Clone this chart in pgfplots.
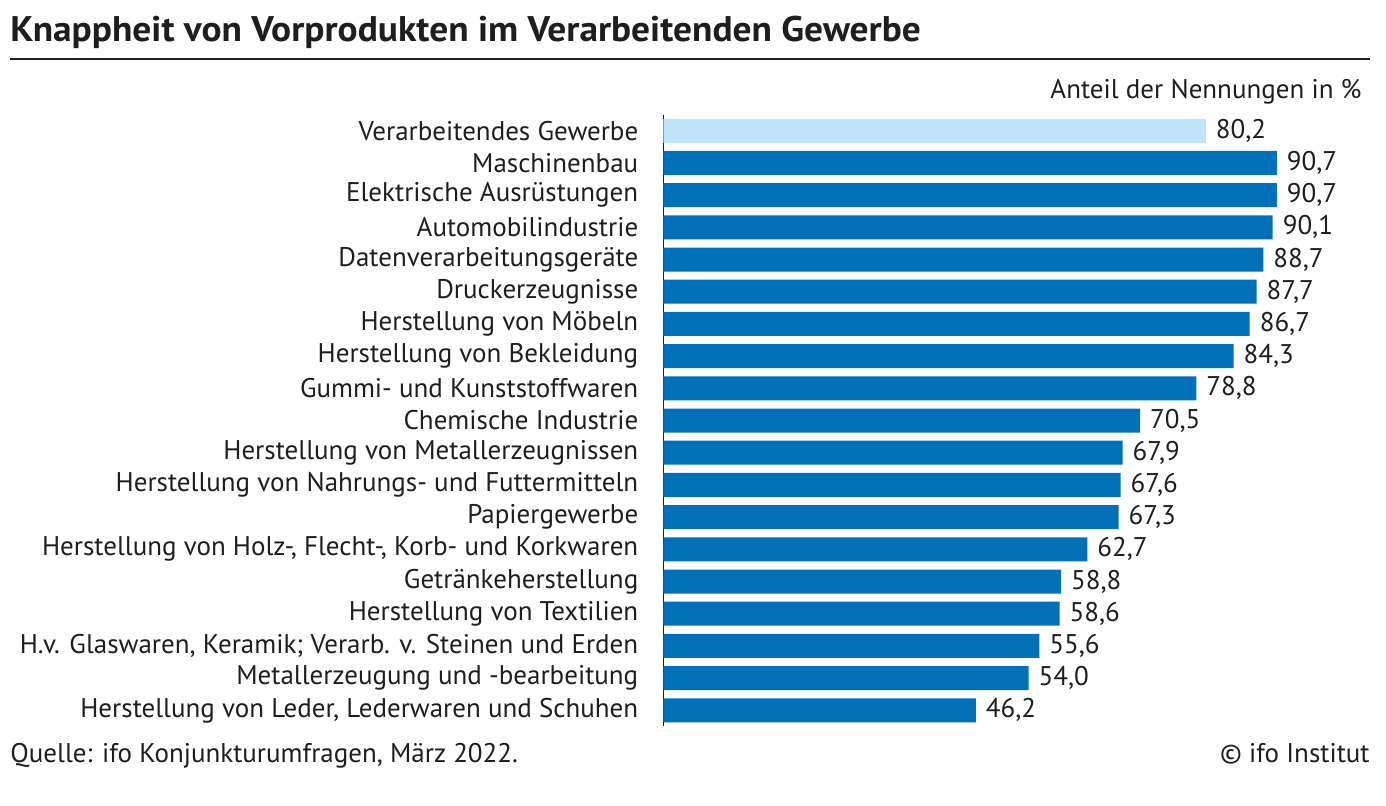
\documentclass[border=0pt]{standalone}
\usepackage{fontspec}
\setmainfont{PT Sans}
\newfontfamily\titlefont[FakeStretch=1.05]{PT Sans}
\usepackage{pgfplots}
\usepackage{pgfplotstable}
\pgfplotsset{compat=1.18}

\definecolor{ifoblue}{HTML}{0070B8}
\definecolor{ifolight}{HTML}{BFE4FA}
\definecolor{txt}{HTML}{1E1E1E}

% Gesamtwert (hell) und Branchen (dunkel), Index = Zeile von oben
\pgfplotstableread{
idx val
0 80.2
}\gesamt
\pgfplotstableread{
idx val
1 90.7
2 90.7
3 90.1
4 88.7
5 87.7
6 86.7
7 84.3
8 78.8
9 70.5
10 67.9
11 67.6
12 67.3
13 62.7
14 58.8
15 58.6
16 55.6
17 54.0
18 46.2
}\branchen

\newcommand{\lbl}{\fontsize{13.5}{15}\selectfont}

\begin{document}
\begin{tikzpicture}
\useasboundingbox (0,0) rectangle (693pt,-402.5pt);
\node[anchor=base west, inner sep=0pt, text=txt,
      font=\titlefont\bfseries\fontsize{17.8}{20}\selectfont]
  at (5pt,-20.5pt) {Knappheit von Vorprodukten im Verarbeitenden Gewerbe};
\draw[line width=1.3pt, txt] (5pt,-29.5pt) -- (685pt,-29.5pt);
\node[anchor=base east, inner sep=0pt, text=txt, font=\lbl]
  at (681pt,-49pt) {Anteil der Nennungen in \%};

\begin{axis}[
  at={(331.65pt,-363.2pt)}, anchor=south west,
  scale only axis, width=338.2pt, height=305.9pt,
  xbar, bar width=12pt, bar shift=0pt,
  xmin=0, xmax=100, ymin=-0.5, ymax=18.5, y dir=reverse,
  axis x line=none, axis y line*=left,
  axis line style={-, txt, line width=0.7pt},
  ytick={0,...,18},
  yticklabels={
    Verarbeitendes Gewerbe,
    Maschinenbau,
    Elektrische Ausrüstungen,
    Automobilindustrie,
    Datenverarbeitungsgeräte,
    Druckerzeugnisse,
    Herstellung von Möbeln,
    Herstellung von Bekleidung,
    Gummi- und Kunststoffwaren,
    Chemische Industrie,
    Herstellung von Metallerzeugnissen,
    Herstellung von Nahrungs- und Futtermitteln,
    Papiergewerbe,
    {Herstellung von Holz-, Flecht-, Korb- und Korkwaren},
    Getränkeherstellung,
    Herstellung von Textilien,
    {H.v. Glaswaren, Keramik; Verarb. v. Steinen und Erden},
    Metallerzeugung und -bearbeitung,
    {Herstellung von Leder, Lederwaren und Schuhen}
  },
  major tick length=0pt,
  yticklabel style={font=\lbl, text=txt, xshift=-9pt},
  point meta=x,
  nodes near coords,
  nodes near coords style={font=\lbl, text=txt, anchor=west, xshift=1.5pt},
  /pgf/number format/use comma,
  /pgf/number format/fixed,
  /pgf/number format/fixed zerofill,
  /pgf/number format/precision=1,
  /pgf/number format/assume math mode=true,
]
\addplot[draw=none, fill=ifolight] table[x=val, y=idx] {\gesamt};
\addplot[draw=none, fill=ifoblue] table[x=val, y=idx] {\branchen};
\end{axis}

\node[anchor=base west, inner sep=0pt, text=txt, font=\lbl]
  at (5pt,-381pt) {Quelle: ifo Konjunkturumfragen, März 2022.};
\node[anchor=base east, inner sep=0pt, text=txt, font=\lbl]
  at (685pt,-381pt) {© ifo Institut};
\end{tikzpicture}
\end{document}
